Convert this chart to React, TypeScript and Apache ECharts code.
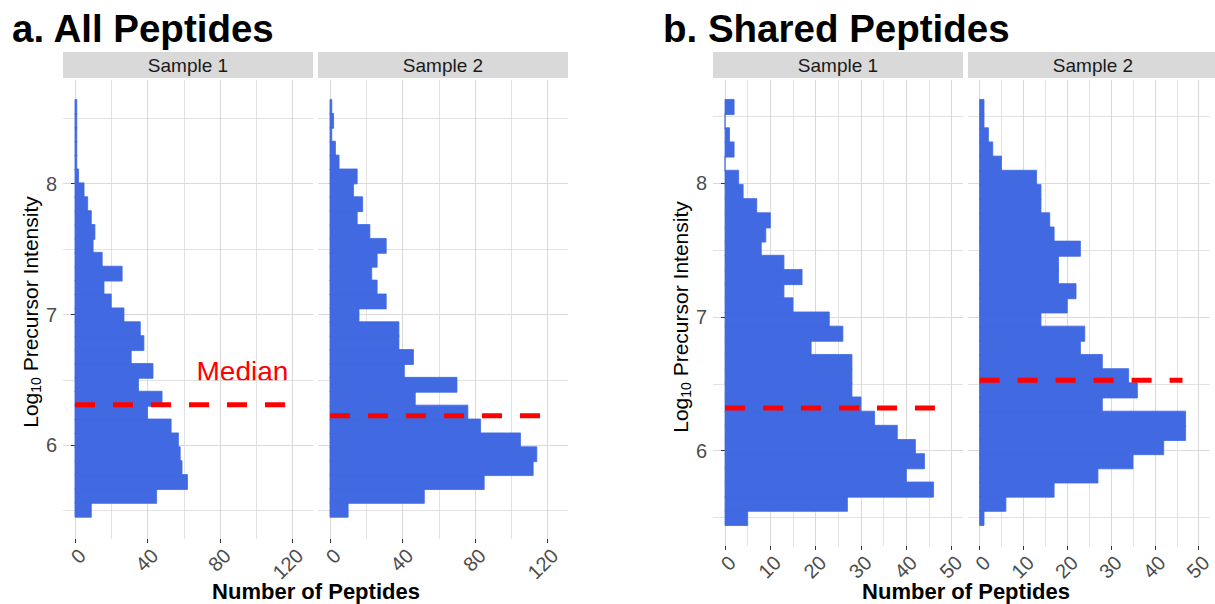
import React, { useEffect, useRef } from 'react';
import * as echarts from 'echarts';

// ---------- text ----------
const PANEL_TITLES = ['a. All Peptides', 'b. Shared Peptides'];
const SAMPLE_NAMES = ['Sample 1', 'Sample 2'];
const X_TITLE = 'Number of Peptides';
const MEDIAN_LABEL = 'Median';

// ---------- axis ticks ----------
const A_X_MAJOR = [0, 40, 80, 120];
const A_X_MINOR = [20, 60, 100];
const B_X_MAJOR = [0, 10, 20, 30, 40, 50];
const B_X_MINOR = [5, 15, 25, 35, 45];
const Y_MAJOR = [6, 7, 8];
const Y_MINOR = [5.5, 6.5, 7.5, 8.5];

// ---------- histogram bins (log10 precursor intensity) ----------
const A_BIN_START = 5.454;
const A_BIN_WIDTH = 0.1062;
const B_BIN_START = 5.444;
const B_BIN_WIDTH = 0.106;

// counts per bin, lowest bin first
const A_SAMPLE1 = [9, 45, 62, 59, 58, 57, 53, 40, 48, 35, 43, 31, 38, 36, 27, 20, 16, 26, 15, 10, 11, 9, 7, 5, 2, 1, 1, 1, 1, 1];
const A_SAMPLE2 = [10, 52, 85, 112, 114, 105, 83, 76, 47, 70, 41, 46, 38, 38, 16, 31, 26, 23, 26, 31, 22, 15, 18, 13, 15, 5, 3, 1, 2, 1];
const B_SAMPLE1 = [5, 27, 46, 40, 44, 42, 38, 33, 30, 28, 28, 28, 19, 26, 23, 15, 13, 17, 13, 8, 9, 10, 7, 4, 3, 0, 2, 1, 0, 2];
const B_SAMPLE2 = [1, 6, 17, 27, 35, 42, 47, 47, 28, 36, 34, 28, 23, 24, 14, 20, 22, 18, 18, 23, 17, 16, 14, 14, 13, 5, 3, 2, 1, 1];

// medians (log10) and the x extent of the dashed median segments
const A_MEDIANS = [6.31, 6.226];
const B_MEDIANS = [6.32, 6.527];
const A_MEDIAN_END = 116;
const B_MEDIAN_END = 46.3;

// ---------- layout / style ----------
const FONT = '"Liberation Sans", Arial, Helvetica, sans-serif';
const BAR_COLOR = '#4169E1';
const GRID_COLOR = '#DADADA';
const LABEL_COLOR = '#4D4D4D';

const PANELS = [
  { left: 63, top: 80, width: 250, height: 459, xMin: -6.6, xMax: 131.2, yMin: 5.284, yMax: 8.793,
    major: A_X_MAJOR, minor: A_X_MINOR, counts: A_SAMPLE1, binStart: A_BIN_START, binWidth: A_BIN_WIDTH,
    median: A_MEDIANS[0], medianEnd: A_MEDIAN_END, showY: true, sample: SAMPLE_NAMES[0] },
  { left: 318, top: 80, width: 250, height: 459, xMin: -6.6, xMax: 131.2, yMin: 5.284, yMax: 8.793,
    major: A_X_MAJOR, minor: A_X_MINOR, counts: A_SAMPLE2, binStart: A_BIN_START, binWidth: A_BIN_WIDTH,
    median: A_MEDIANS[1], medianEnd: A_MEDIAN_END, showY: false, sample: SAMPLE_NAMES[1] },
  { left: 713, top: 80, width: 250, height: 466, xMin: -2.65, xMax: 52.5, yMin: 5.287, yMax: 8.773,
    major: B_X_MAJOR, minor: B_X_MINOR, counts: B_SAMPLE1, binStart: B_BIN_START, binWidth: B_BIN_WIDTH,
    median: B_MEDIANS[0], medianEnd: B_MEDIAN_END, showY: true, sample: SAMPLE_NAMES[0] },
  { left: 968, top: 80, width: 250, height: 466, xMin: -2.65, xMax: 52.5, yMin: 5.287, yMax: 8.773,
    major: B_X_MAJOR, minor: B_X_MINOR, counts: B_SAMPLE2, binStart: B_BIN_START, binWidth: B_BIN_WIDTH,
    median: B_MEDIANS[1], medianEnd: B_MEDIAN_END, showY: false, sample: SAMPLE_NAMES[1] },
];

function buildOption() {
  const grid: any[] = [];
  const xAxis: any[] = [];
  const yAxis: any[] = [];
  const series: any[] = [];
  const graphic: any[] = [];

  PANELS.forEach((p, i) => {
    grid.push({ left: p.left, top: p.top, width: p.width, height: p.height, containLabel: false });

    xAxis.push({
      type: 'value', gridIndex: i, min: p.xMin, max: p.xMax, position: 'bottom',
      axisLine: { show: false },
      axisTick: { show: true, customValues: p.major, length: 4, lineStyle: { color: '#333333', width: 1 } },
      axisLabel: {
        show: true, customValues: p.major, rotate: 45, align: 'right', verticalAlign: 'top', margin: 6,
        color: LABEL_COLOR, fontSize: 20, fontFamily: FONT,
      },
      splitLine: { show: true, lineStyle: { color: GRID_COLOR, width: 1.1 } },
    });
    xAxis.push({
      type: 'value', gridIndex: i, min: p.xMin, max: p.xMax, position: 'bottom',
      axisLine: { show: false },
      axisTick: { show: false, customValues: p.minor },
      axisLabel: { show: false, customValues: p.minor },
      splitLine: { show: true, lineStyle: { color: GRID_COLOR, width: 0.8 } },
    });

    yAxis.push({
      type: 'value', gridIndex: i, min: p.yMin, max: p.yMax, position: 'left',
      axisLine: { show: false },
      axisTick: { show: p.showY, customValues: Y_MAJOR, length: 4, lineStyle: { color: '#333333', width: 1 } },
      axisLabel: { show: p.showY, customValues: Y_MAJOR, margin: 6, color: LABEL_COLOR, fontSize: 20, fontFamily: FONT },
      splitLine: { show: true, lineStyle: { color: GRID_COLOR, width: 1.2 } },
    });
    yAxis.push({
      type: 'value', gridIndex: i, min: p.yMin, max: p.yMax, position: 'left',
      axisLine: { show: false },
      axisTick: { show: false, customValues: Y_MINOR },
      axisLabel: { show: false, customValues: Y_MINOR },
      splitLine: { show: true, lineStyle: { color: GRID_COLOR, width: 0.8 } },
    });

    const bins = p.counts.map((c, k) => [p.binStart + k * p.binWidth, p.binStart + (k + 1) * p.binWidth, c]);
    series.push({
      type: 'custom', name: p.sample, xAxisIndex: 2 * i, yAxisIndex: 2 * i,
      data: bins, encode: { x: 2, y: [0, 1] }, clip: true,
      renderItem: (params: any, api: any) => {
        const lo = api.value(0);
        const hi = api.value(1);
        const c = api.value(2);
        const p0 = api.coord([0, hi]);
        const p1 = api.coord([c, lo]);
        return {
          type: 'rect',
          shape: { x: p0[0], y: p0[1] - 0.5, width: p1[0] - p0[0], height: p1[1] - p0[1] + 1 },
          style: { fill: BAR_COLOR, stroke: BAR_COLOR, lineWidth: 0.8 },
        };
      },
      z: 2,
    });
    series.push({
      type: 'line', name: 'median', xAxisIndex: 2 * i, yAxisIndex: 2 * i,
      data: [[0, p.median], [p.medianEnd, p.median]], symbol: 'none', silent: true,
      lineStyle: { color: '#FF0000', width: 5, type: [20, 18], cap: 'butt' },
      z: 3,
    });

    // strip
    graphic.push({ type: 'rect', left: p.left, top: 52, shape: { width: p.width, height: 26 }, style: { fill: '#D9D9D9' }, silent: true });
    graphic.push({
      type: 'text', x: p.left + p.width / 2, y: 65.5,
      style: { text: p.sample, fill: '#1A1A1A', fontSize: 19, fontFamily: FONT, align: 'center', verticalAlign: 'middle' },
      silent: true,
    });
  });

  // panel titles
  [[12, PANEL_TITLES[0]], [663, PANEL_TITLES[1]]].forEach(([x, t]) => {
    graphic.push({
      type: 'text', x: x as number, y: 28,
      style: { text: t as string, fill: '#000', fontSize: 38.5, fontWeight: 'bold', fontFamily: FONT, align: 'left', verticalAlign: 'middle' },
      silent: true,
    });
  });

  // y-axis titles
  [[30, 312], [680, 317]].forEach(([x, y]) => {
    graphic.push({
      type: 'text', x, y, rotation: Math.PI / 2,
      style: {
        text: '{n|Log}{s|10}{n| Precursor Intensity}',
        align: 'center', verticalAlign: 'middle', fontFamily: FONT,
        rich: {
          n: { fontSize: 21, fill: '#000', fontFamily: FONT, lineHeight: 26, verticalAlign: 'middle' },
          s: { fontSize: 14, fill: '#000', fontFamily: FONT, lineHeight: 26, verticalAlign: 'bottom' },
        },
      },
      silent: true,
    });
  });

  // x-axis titles
  [[316, 591], [966, 591]].forEach(([x, y]) => {
    graphic.push({
      type: 'text', x, y,
      style: { text: X_TITLE, fill: '#000', fontSize: 22, fontWeight: 'bold', fontFamily: FONT, align: 'center', verticalAlign: 'middle' },
      silent: true,
    });
  });

  // median annotation
  graphic.push({
    type: 'text', x: 196.5, y: 371,
    style: { text: MEDIAN_LABEL, fill: '#FF0000', fontSize: 28, fontFamily: FONT, align: 'left', verticalAlign: 'middle' },
    silent: true,
  });

  return {
    animation: false,
    backgroundColor: '#FFFFFF',
    textStyle: { fontFamily: FONT },
    grid, xAxis, yAxis, series, graphic,
  };
}

export default function App() {
  const ref = useRef<HTMLDivElement>(null);
  useEffect(() => {
    if (!ref.current) return;
    const chart = echarts.init(ref.current, null, { renderer: 'svg' });
    chart.setOption(buildOption() as any);
    return () => chart.dispose();
  }, []);
  return <div ref={ref} style={{ position: 'absolute', left: 0, top: 0, width: 1215, height: 604, background: '#fff' }} />;
}
